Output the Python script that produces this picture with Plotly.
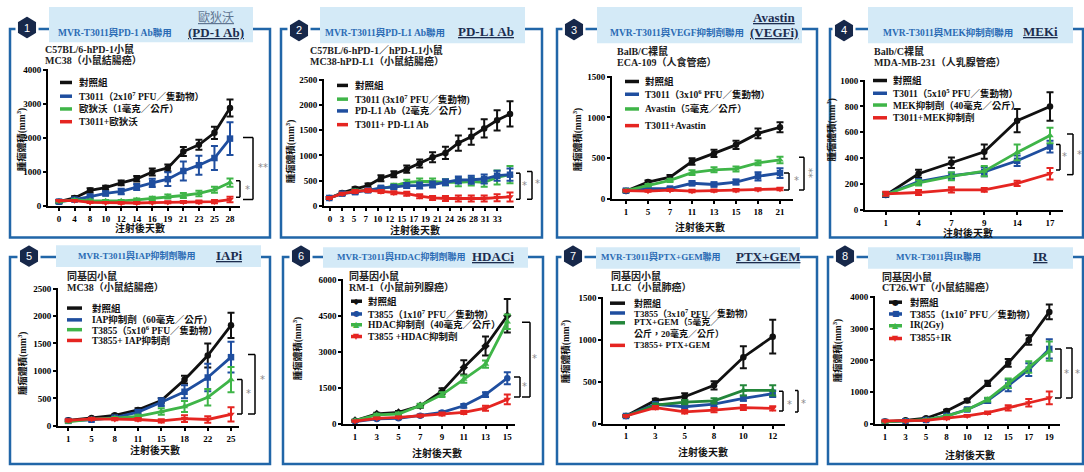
import math
import plotly.graph_objects as go

W, H = 1084, 472
FONT = "Liberation Serif, Noto Sans CJK TC, serif"

# ---------------- data: tumour volume (mm^3) ----------------
# 1: PD-1 Ab
p1_days = ["0", "4", "8", "10", "12", "14", "16", "19", "21", "23", "25", "28"]
p1_ctrl = [130, 240, 460, 540, 680, 800, 1000, 1120, 1600, 1800, 2150, 2880]
p1_ctrl_err = [50, 50, 60, 60, 70, 80, 100, 100, 130, 150, 180, 250]
p1_t3011 = [130, 190, 280, 370, 430, 560, 680, 790, 1030, 1200, 1410, 1980]
p1_t3011_err = [30, 40, 50, 60, 80, 90, 120, 200, 280, 280, 350, 480]
p1_nivo = [130, 180, 160, 150, 150, 180, 220, 280, 310, 370, 480, 690]
p1_nivo_err = [20, 20, 30, 30, 30, 40, 50, 60, 70, 80, 90, 120]
p1_combo = [160, 160, 110, 100, 90, 90, 100, 110, 120, 120, 130, 190]
p1_combo_err = [20, 20, 20, 20, 20, 20, 20, 30, 30, 40, 50, 80]

# 2: PD-L1 Ab
p2_days = ["0", "3", "5", "7", "10", "12", "15", "17", "19", "21", "24", "26", "28", "31", "33"]
p2_ctrl = [160, 260, 340, 405, 550, 630, 730, 840, 965, 1050, 1245, 1370, 1535, 1695, 1820]
p2_ctrl_err = [20, 30, 30, 40, 60, 60, 70, 80, 100, 120, 150, 160, 180, 200, 250]
p2_t3011 = [160, 245, 295, 320, 340, 400, 470, 485, 485, 470, 470, 485, 470, 565, 620]
p2_t3011_err = [20, 20, 30, 30, 30, 40, 50, 60, 60, 60, 80, 80, 90, 140, 170]
p2_pdl1 = [160, 245, 275, 310, 360, 375, 405, 405, 425, 470, 515, 520, 535, 600, 620]
p2_pdl1_err = [20, 20, 30, 30, 30, 40, 50, 60, 60, 60, 70, 80, 90, 100, 120]
p2_combo = [160, 245, 290, 310, 290, 265, 245, 195, 160, 150, 150, 150, 150, 165, 180]
p2_combo_err = [20, 20, 30, 30, 30, 30, 40, 40, 40, 50, 60, 60, 60, 70, 90]

# 3: VEGF inhibitor
p3_days = ["1", "5", "7", "11", "13", "15", "18", "21"]
p3_ctrl = [100, 210, 270, 460, 560, 665, 805, 880]
p3_ctrl_err = [15, 20, 25, 40, 45, 50, 60, 60]
p3_t3011 = [105, 130, 130, 195, 180, 210, 280, 320]
p3_t3011_err = [10, 15, 15, 25, 25, 30, 50, 60]
p3_avastin = [105, 170, 230, 325, 360, 370, 445, 480]
p3_avastin_err = [10, 15, 20, 30, 30, 30, 30, 40]
p3_combo = [105, 100, 110, 100, 105, 110, 120, 125]
p3_combo_err = [10, 10, 10, 15, 15, 15, 15, 15]

# 4: MEK inhibitor
p4_days = ["1", "4", "7", "9", "14", "17"]
p4_ctrl = [115, 280, 365, 450, 690, 800]
p4_ctrl_err = [15, 30, 40, 55, 90, 110]
p4_t3011 = [120, 220, 265, 295, 380, 490]
p4_t3011_err = [10, 20, 25, 35, 40, 45]
p4_mek = [120, 210, 260, 300, 445, 575]
p4_mek_err = [10, 20, 30, 40, 60, 60]
p4_combo = [125, 135, 155, 155, 205, 280]
p4_combo_err = [15, 20, 20, 15, 20, 45]

# 5: IAP inhibitor
p5_days = ["1", "5", "8", "11", "15", "18", "22", "25"]
p5_ctrl = [100, 140, 190, 290, 460, 840, 1280, 1830]
p5_ctrl_err = [10, 15, 20, 30, 40, 70, 220, 230]
p5_iap = [90, 110, 150, 250, 430, 620, 880, 1250]
p5_iap_err = [10, 15, 20, 40, 70, 120, 250, 280]
p5_t3855 = [70, 120, 140, 170, 260, 350, 520, 840]
p5_t3855_err = [10, 15, 20, 30, 60, 100, 150, 230]
p5_combo = [100, 125, 120, 115, 90, 130, 115, 210]
p5_combo_err = [20, 20, 20, 25, 30, 60, 60, 130]

# 6: HDAC inhibitor
p6_days = ["1", "3", "5", "7", "9", "11", "13", "15"]
p6_ctrl = [135, 410, 475, 750, 1360, 2350, 3240, 4500]
p6_ctrl_err = [30, 50, 60, 80, 120, 300, 400, 700]
p6_t3855 = [95, 205, 230, 340, 475, 750, 1220, 1900]
p6_t3855_err = [20, 30, 40, 50, 60, 80, 100, 250]
p6_hdac = [135, 370, 410, 760, 1220, 1860, 2490, 4250]
p6_hdac_err = [30, 50, 60, 80, 100, 150, 150, 300]
p6_combo = [110, 230, 270, 340, 410, 475, 650, 1020]
p6_combo_err = [20, 30, 40, 50, 60, 70, 100, 200]

# 7: PTX+GEM
p7_days = ["1", "3", "5", "8", "10", "12"]
p7_ctrl = [90, 275, 320, 455, 790, 1035]
p7_ctrl_err = [10, 20, 40, 50, 130, 200]
p7_t3855 = [90, 230, 200, 230, 300, 355]
p7_t3855_err = [10, 20, 30, 30, 30, 40]
p7_chemo = [90, 220, 255, 270, 395, 395]
p7_chemo_err = [10, 20, 25, 30, 60, 60]
p7_combo = [90, 190, 140, 160, 190, 180]
p7_combo_err = [10, 20, 20, 25, 30, 25]

# 8: IR
p8_days = ["1", "3", "5", "8", "10", "12", "15", "17", "19"]
p8_ctrl = [80, 120, 185, 410, 740, 1280, 1920, 2640, 3520]
p8_ctrl_err = [20, 20, 30, 40, 50, 80, 120, 150, 230]
p8_t3855 = [70, 90, 130, 260, 460, 740, 1210, 1710, 2360]
p8_t3855_err = [10, 15, 20, 30, 40, 80, 180, 200, 300]
p8_ir = [70, 100, 140, 250, 450, 770, 1280, 1790, 2290]
p8_ir_err = [10, 15, 20, 30, 40, 60, 150, 180, 300]
p8_combo = [100, 100, 120, 185, 260, 360, 510, 670, 820]
p8_combo_err = [15, 15, 20, 30, 30, 40, 80, 120, 200]

# ---------------- styling ----------------
BLACK = "#111111"
BLUE = "#1f4e9f"
GREEN = "#3fb548"
DKGREEN = "#23863a"
RED = "#e52521"
FRAME = "#2166a8"
HEADER_BG = "#d4eaf7"
BADGE = "#17284a"
TITLE_BLUE = "#2a6bb4"
NAVY = "#1c2d4f"
GREYBLUE = "#5f7591"
STAR = "#8a8a8a"

YTITLE = "腫瘤體積(mm<sup>3</sup>)"
XTITLE = "注射後天數"


def px(x):
    return x / W


def py(y):
    return 1 - y / H


panels = [
    dict(
        days=p1_days,
        series=[("對照組", p1_ctrl, p1_ctrl_err, BLACK, "circle"),
                ("T3011（2x10<sup>7</sup> PFU／隻動物）", p1_t3011, p1_t3011_err, BLUE, "square"),
                ("歐狄沃（1毫克／公斤）", p1_nivo, p1_nivo_err, GREEN, "triangle-up"),
                ("T3011+歐狄沃", p1_combo, p1_combo_err, RED, "triangle-down")],
        ymax=4000, dtick=1000, axis=(48, 240, 67, 206), cat=(59, 230), tick=None,
        box=(10, 25.5, 270, 238), header=(49, 3, 253, 39), badge=(27, 24),
        title="MVR-T3011與PD-1 Ab聯用", title_xy=(115, 29),
        big="(PD-1 Ab)", big_xy=(216, 29), top="歐狄沃", top_xy=(216, 14), top_plain=True,
        sub=("C57BL/6-hPD-1小鼠", "MC38（小鼠結腸癌）"), sub_xy=(43, 46),
        leg=(60, 72, 77, [80, 94, 107, 120]), leg_marker=False,
        xt=(140, 228), yt=(21, 138),
        brackets=[(236, 240, 740, 260, "*", 247, 500, 0), (243, 253, 2010, 190, "**", 263, 1120, 0)],
    ),
    dict(
        days=p2_days,
        series=[("對照組", p2_ctrl, p2_ctrl_err, BLACK, "circle"),
                ("T3011 (3x10<sup>7</sup> PFU／隻動物)", p2_t3011, p2_t3011_err, GREEN, "triangle-up"),
                ("PD-L1 Ab（2毫克／公斤）", p2_pdl1, p2_pdl1_err, BLUE, "square"),
                ("T3011+ PD-L1 Ab", p2_combo, p2_combo_err, RED, "triangle-down")],
        ymax=2500, dtick=500, axis=(324, 514, 77, 206), cat=(329.3, 510), tick=(330, 497.3),
        box=(281, 25.5, 542, 238), header=(320, 3, 525, 40), badge=(299, 27),
        title="MVR-T3011與PD-L1 Ab聯用", title_xy=(385, 29),
        big="PD-L1 Ab", big_xy=(486, 28), top=None, top_xy=None, top_plain=False,
        sub=("C57BL/6-hPD-1／hPD-L1小鼠", "MC38-hPD-L1（小鼠結腸癌）"), sub_xy=(308, 47),
        leg=(337, 348, 353, [83, 97, 109, 123]), leg_marker=False,
        xt=(415, 230), yt=(290, 150),
        brackets=[(516, 520, 650, 135, "*", 524, 405, 0), (527, 532, 683, 135, "*", 537, 450, 0)],
    ),
    dict(
        days=p3_days,
        series=[("對照組", p3_ctrl, p3_ctrl_err, BLACK, "circle"),
                ("T3011（3x10<sup>6</sup> PFU／隻動物）", p3_t3011, p3_t3011_err, BLUE, "square"),
                ("Avastin（5毫克／公斤）", p3_avastin, p3_avastin_err, GREEN, "triangle-up"),
                ("T3011+Avastin", p3_combo, p3_combo_err, RED, "triangle-down")],
        ymax=1500, dtick=500, axis=(612, 793, 74, 199), cat=(626, 780), tick=None,
        box=(557, 25.5, 817, 238), header=(597, 3, 802, 40), badge=(574, 26),
        title="MVR-T3011與VEGF抑制劑聯用", title_xy=(677, 29),
        big="(VEGFi)", big_xy=(774, 29), top="Avastin", top_xy=(774, 14), top_plain=False,
        sub=("BalB/C裸鼠", "ECA-109（人食管癌）"), sub_xy=(615, 48),
        leg=(625, 639, 643, [79, 92, 107, 124]), leg_marker=False,
        xt=(700, 227), yt=(577, 138),
        brackets=[(784, 789, 320, 112, "*", 796, 232, 0), (799, 804, 512, 112, "**", 809, 320, 90)],
    ),
    dict(
        days=p4_days,
        series=[("對照組", p4_ctrl, p4_ctrl_err, BLACK, "circle"),
                ("T3011（5x10<sup>5</sup> PFU／隻動物）", p4_t3011, p4_t3011_err, BLUE, "square"),
                ("MEK抑制劑（40毫克／公斤）", p4_mek, p4_mek_err, GREEN, "triangle-up"),
                ("T3011+MEK抑制劑", p4_combo, p4_combo_err, RED, "triangle-down")],
        ymax=1000, dtick=200, axis=(865, 1063, 78, 210), cat=(885.7, 1050), tick=None,
        box=(830, 25.5, 1083, 238), header=(868, 3, 1073, 40), badge=(844, 27),
        title="MVR-T3011與MEK抑制劑聯用", title_xy=(948, 29),
        big="MEKi", big_xy=(1040, 28), top=None, top_xy=None, top_plain=False,
        sub=("Balb/C裸鼠", "MDA-MB-231（人乳腺管癌）"), sub_xy=(872, 48),
        leg=(873, 887, 891, [78, 91, 103, 116]), leg_marker=False,
        xt=(968, 233), yt=(832, 128),
        brackets=[(1056, 1060, 506, 309, "*", 1064, 413, 0), (1067, 1073, 587, 273, "*", 1079, 430, 0)],
    ),
    dict(
        days=p5_days,
        series=[("對照組", p5_ctrl, p5_ctrl_err, BLACK, "circle"),
                ("IAP抑制劑（60毫克／公斤）", p5_iap, p5_iap_err, BLUE, "square"),
                ("T3855（5x10<sup>6</sup> PFU／隻動物）", p5_t3855, p5_t3855_err, GREEN, "triangle-up"),
                ("T3855+ IAP抑制劑", p5_combo, p5_combo_err, RED, "triangle-down")],
        ymax=2500, dtick=500, axis=(58, 239, 290, 430), cat=(68.3, 231), tick=None,
        box=(10, 258, 270, 469), header=(56, 246, 261, 268), badge=(29, 257),
        title="MVR-T3011與IAP抑制劑聯用", title_xy=(137, 256),
        big="IAPi", big_xy=(229, 256), top=None, top_xy=None, top_plain=False,
        sub=("同基因小鼠", "MC38（小鼠結腸癌）"), sub_xy=(65, 277),
        leg=(67, 82, 90, [310, 322, 332, 343]), leg_marker=False,
        xt=(155, 455), yt=(22, 366),
        brackets=[(237, 242, 845, 214, "*", 248, 590, 0), (248, 255, 1298, 214, "*", 262, 840, 0)],
    ),
    dict(
        days=p6_days,
        series=[("對照組", p6_ctrl, p6_ctrl_err, BLACK, "diamond"),
                ("T3855（1x10<sup>7</sup> PFU／隻動物）", p6_t3855, p6_t3855_err, BLUE, "circle"),
                ("HDAC抑制劑（40毫克／公斤）", p6_hdac, p6_hdac_err, GREEN, "triangle-up"),
                ("T3855 +HDAC抑制劑", p6_combo, p6_combo_err, RED, "triangle-down")],
        ymax=6000, dtick=1500, axis=(343.3, 515, 281, 428), cat=(355, 507.3), tick=None,
        box=(283, 258, 543, 469), header=(323, 248, 528, 269), badge=(301, 257),
        title="MVR-T3011與HDAC抑制劑聯用", title_xy=(402, 257),
        big="HDACi", big_xy=(493, 257), top=None, top_xy=None, top_plain=False,
        sub=("同基因小鼠", "RM-1（小鼠前列腺癌）"), sub_xy=(347, 277),
        leg=(351, 362, 366, [303, 316, 327, 339]), leg_marker=True,
        xt=(437, 458), yt=(297, 351),
        brackets=[(514, 520, 1950, 1118, "*", 524, 1568, 0), (522, 530, 4228, 1118, "*", 534, 2700, 0)],
    ),
    dict(
        days=p7_days,
        series=[("對照組", p7_ctrl, p7_ctrl_err, BLACK, "circle"),
                ("T3855（3x10<sup>7</sup> PFU／隻動物）", p7_t3855, p7_t3855_err, BLUE, "square"),
                ("PTX+GEM（5毫克／<br>公斤，20毫克／公斤）", p7_chemo, p7_chemo_err, DKGREEN, "triangle-up"),
                ("T3855+ PTX+GEM", p7_combo, p7_combo_err, RED, "triangle-down")],
        ymax=1500, dtick=500, axis=(603.3, 785, 299.3, 427.7), cat=(626, 772.7), tick=None,
        box=(557, 258, 817, 469), header=(596, 248, 800, 270), badge=(573, 257),
        title="MVR-T3011與PTX+GEM聯用", title_xy=(661, 257),
        big="PTX+GEM", big_xy=(768, 257), top=None, top_xy=None, top_plain=False,
        sub=("同基因小鼠", "LLC（小鼠肺癌）"), sub_xy=(609, 277),
        leg=(610, 625, 632, [305, 315, 325, 348]), leg_marker=False,
        xt=(703, 457), yt=(565, 354),
        brackets=[(779, 783, 386, 150, "*", 789, 228, 0), (795, 798, 394, 138, "*", 804, 236, 0)],
    ),
    dict(
        days=p8_days,
        series=[("對照組", p8_ctrl, p8_ctrl_err, BLACK, "circle"),
                ("T3855（1x10<sup>7</sup> PFU／隻動物）", p8_t3855, p8_t3855_err, BLUE, "square"),
                ("IR(2Gy)", p8_ir, p8_ir_err, GREEN, "triangle-up"),
                ("T3855+IR", p8_combo, p8_combo_err, RED, "triangle-down")],
        ymax=4000, dtick=1000, axis=(875, 1060, 298.3, 428.3), cat=(885, 1049.3), tick=None,
        box=(828, 258, 1083, 469), header=(868, 248, 1073, 270), badge=(845, 257),
        title="MVR-T3011與IR聯用", title_xy=(938, 257),
        big="IR", big_xy=(1040, 257), top=None, top_xy=None, top_plain=False,
        sub=("同基因小鼠", "CT26.WT（小鼠結腸癌）"), sub_xy=(880, 278),
        leg=(889, 902, 908, [304, 316, 328, 341]), leg_marker=True,
        xt=(970, 460), yt=(837, 353),
        brackets=[(1055, 1061, 2360, 820, "*", 1066, 1590, 0), (1066, 1072, 2390, 820, "*", 1077, 1590, 0)],
    ),
]

SYMBOL_GLYPH = {"circle": "●", "square": "■", "triangle-up": "▲", "triangle-down": "▼", "diamond": "◆"}

fig = go.Figure()
shapes = []
annotations = []
layout_axes = {}

tick_font = dict(family=FONT, size=9, color="black", weight="bold")


def note(text, x, y, size, color, xanchor="center", weight="bold", family=FONT,
         xref="paper", yref="paper", angle=0, paper_y=True):
    annotations.append(dict(
        text=text, x=px(x), y=py(y) if paper_y else y, xref=xref, yref=yref,
        xanchor=xanchor, yanchor="middle", align="left", showarrow=False, textangle=angle,
        font=dict(family=family, size=size, color=color, weight=weight),
    ))


for i, p in enumerate(panels):
    n = i + 1
    xa = "x" if n == 1 else f"x{n}"
    ya = "y" if n == 1 else f"y{n}"
    xkey = "xaxis" if n == 1 else f"xaxis{n}"
    ykey = "yaxis" if n == 1 else f"yaxis{n}"

    left, right, top, bottom = p["axis"]
    c0, c1 = p["cat"]
    npts = len(p["days"])
    step = (c1 - c0) / (npts - 1)
    xr = [-(c0 - left) / step, (npts - 1) + (right - c1) / step]
    if p["tick"]:
        t0, t1 = p["tick"]
        tickvals = [(t0 + k * (t1 - t0) / (npts - 1) - c0) / step for k in range(npts)]
    else:
        tickvals = list(range(npts))

    layout_axes[xkey] = dict(
        domain=[px(left), px(right)], anchor=ya, range=xr,
        tickmode="array", tickvals=tickvals, ticktext=p["days"],
        showgrid=False, zeroline=False, showline=True, linecolor="black", linewidth=2,
        ticks="outside", ticklen=3, tickwidth=1.5, tickcolor="black", tickfont=tick_font,
        fixedrange=True,
    )
    ymax = p["ymax"]
    layout_axes[ykey] = dict(
        domain=[py(bottom), py(top - 0.5)], anchor=xa, range=[0, ymax * 1.004],
        tickmode="array", tickvals=list(range(0, ymax + 1, p["dtick"])),
        ticktext=[str(v) for v in range(0, ymax + 1, p["dtick"])],
        showgrid=False, zeroline=False, showline=True, linecolor="black", linewidth=2,
        ticks="outside", ticklen=3, tickwidth=1.5, tickcolor="black", tickfont=tick_font,
        ticklabeloverflow="allow", fixedrange=True,
    )

    # tumour growth curves
    for label, vals, errs, color, symbol in p["series"]:
        fig.add_trace(go.Scatter(
            x=list(range(npts)), y=vals, xaxis=xa, yaxis=ya,
            mode="lines+markers", showlegend=False, cliponaxis=False,
            line=dict(color=color, width=2.8),
            marker=dict(color=color, symbol=symbol, size=6.5),
            error_y=dict(type="data", array=errs, color=color, thickness=2, width=3.5),
        ))

    # panel frame, header band and number badge
    bx0, by0, bx1, by1 = p["box"]
    shapes.append(dict(type="rect", xref="paper", yref="paper",
                       x0=px(bx0), x1=px(bx1), y0=py(by1), y1=py(by0),
                       line=dict(color=FRAME, width=2.5), fillcolor="rgba(0,0,0,0)", layer="above"))
    hx0, hy0, hx1, hy1 = p["header"]
    shapes.append(dict(type="rect", xref="paper", yref="paper",
                       x0=px(hx0), x1=px(hx1), y0=py(hy1), y1=py(hy0),
                       line=dict(width=0), fillcolor=HEADER_BG, layer="above"))
    cx, cy = p["badge"]
    r = 12.5
    pts = []
    for k in range(6):
        a = math.radians(90 + 60 * k)
        pts.append((px(cx + r * math.cos(a) * 0.95), py(cy - r * math.sin(a))))
    path = "M " + " L ".join(f"{x:.5f},{y:.5f}" for x, y in pts) + " Z"
    shapes.append(dict(type="path", xref="paper", yref="paper", path=path,
                       fillcolor=BADGE, line=dict(color="white", width=2.5), layer="above"))
    note(str(n), cx, cy, 11, "white", weight="normal", family="Liberation Sans, Arial")

    # header texts
    tx, ty = p["title_xy"]
    note(p["title"], tx, ty, 9.5 if n <= 4 else 9, TITLE_BLUE)
    bxt, byt = p["big_xy"]
    note("<u>" + p["big"] + "</u>", bxt, byt, 13, NAVY)
    if p["top"]:
        ttx, tty = p["top_xy"]
        if p["top_plain"]:
            note("<u>" + p["top"] + "</u>", ttx, tty, 12, GREYBLUE, weight="normal")
        else:
            note("<u>" + p["top"] + "</u>", ttx, tty, 13, NAVY)

    # model description
    sx, sy = p["sub_xy"]
    for k, line in enumerate(p["sub"]):
        note(line, sx, sy + 11 * k, 10, "#222222", xanchor="left")

    # legend
    lx0, lx1, ltx, rows = p["leg"]
    for (label, vals, errs, color, symbol), ry in zip(p["series"], rows):
        shapes.append(dict(type="line", xref="paper", yref="paper",
                           x0=px(lx0), x1=px(lx1), y0=py(ry), y1=py(ry),
                           line=dict(color=color, width=3.5), layer="above"))
        if p["leg_marker"]:
            note(SYMBOL_GLYPH[symbol], (lx0 + lx1) / 2, ry, 8, color, weight="normal", family="DejaVu Sans")
        ty_ = ry + 5 if "<br>" in label else ry
        note(label, ltx, ty_, 9.5 if n != 7 else 9, "#111111", xanchor="left")

    # axis titles
    xtx, xty = p["xt"]
    note(XTITLE, xtx, xty, 10, "#111111")
    ytx, yty = p["yt"]
    note(YTITLE, ytx, yty, 9.5, "#111111", angle=-90)

    # significance brackets
    for hx, vx, yt_, yb_, star, stx, sty, ang in p["brackets"]:
        for (x0, x1, y0, y1) in [(hx, vx, yt_, yt_), (vx, vx, yt_, yb_), (hx, vx, yb_, yb_)]:
            shapes.append(dict(type="line", xref="paper", yref=ya,
                               x0=px(x0), x1=px(x1), y0=y0, y1=y1,
                               line=dict(color="black", width=1.5), layer="above"))
        note(star, stx, sty, 10, STAR, weight="normal", family="DejaVu Sans",
             yref=ya, angle=ang, paper_y=False)

fig.update_layout(
    width=W, height=H,
    margin=dict(l=0, r=0, t=0, b=0),
    paper_bgcolor="white", plot_bgcolor="rgba(0,0,0,0)",
    showlegend=False,
    shapes=shapes, annotations=annotations,
    **layout_axes,
)

fig.write_html("out.html")
